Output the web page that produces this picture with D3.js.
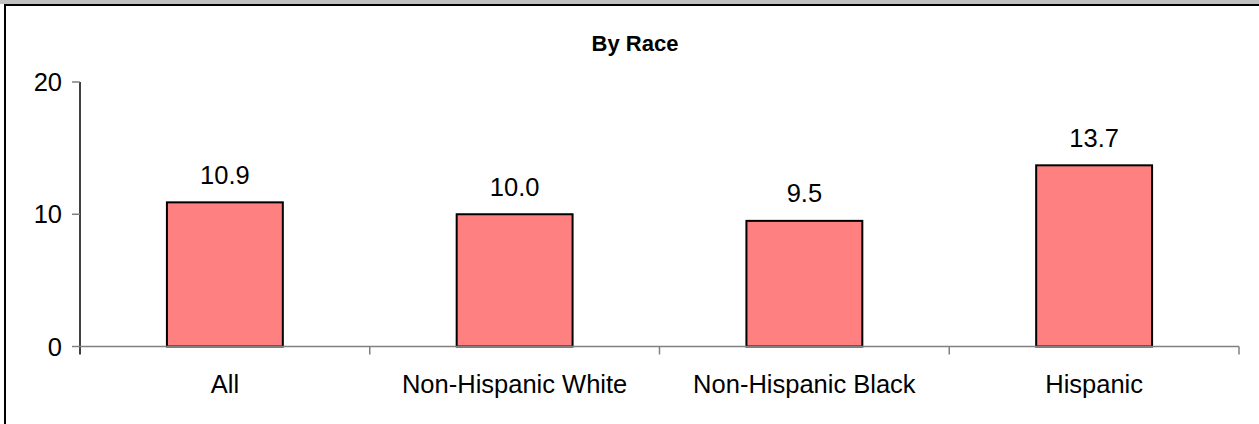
<!DOCTYPE html>
<html lang="en">
<head>
<meta charset="UTF-8">
<script src="https://d3js.org/d3.v7.min.js"></script>
<style>
    body { margin: 0; background: #fff; font-family: Arial, "Liberation Sans", sans-serif; }
    svg { display: block; }
</style>
</head>
<body>
<div id="chart"></div>
<script>
// data
var categories = ["All", "Non-Hispanic White", "Non-Hispanic Black", "Hispanic"];
var values = [10.9, 10.0, 9.5, 13.7];
var yTicks = [0, 10, 20];
var title = "By Race";

var W = 1259, H = 424;
var svg = d3.select("#chart").append("svg")
    .attr("width", W)
    .attr("height", H);

// frame (top gray band + dark edges)
svg.append("rect").attr("x", 0).attr("y", 0).attr("width", W).attr("height", 4).attr("fill", "#c0c0c0");
svg.append("line").attr("x1", 4).attr("x2", W).attr("y1", 5).attr("y2", 5)
    .attr("stroke", "#000").attr("stroke-width", 2);
svg.append("line").attr("x1", 5).attr("x2", 5).attr("y1", 4).attr("y2", H)
    .attr("stroke", "#000").attr("stroke-width", 2);

var plotLeft = 80, plotRight = 1239, plotTop = 82, plotBottom = 346.5;

var x = d3.scaleBand().domain(categories).range([plotLeft, plotRight]).padding(0);
var y = d3.scaleLinear().domain([0, 20]).range([plotBottom, plotTop]);

// title
svg.append("text")
    .attr("x", 635)
    .attr("y", 51)
    .attr("text-anchor", "middle")
    .style("font-size", "22px")
    .style("font-weight", "bold")
    .text(title);

// y axis
svg.append("line")
    .attr("x1", plotLeft).attr("x2", plotLeft)
    .attr("y1", y(20)).attr("y2", plotBottom + 8)
    .attr("stroke", "#000").attr("stroke-width", 1.5);

svg.selectAll(".ytick")
    .data(yTicks)
    .enter().append("line")
    .attr("x1", plotLeft - 8).attr("x2", plotLeft)
    .attr("y1", function(d) { return y(d); })
    .attr("y2", function(d) { return y(d); })
    .attr("stroke", "#808080").attr("stroke-width", 1.5);

svg.selectAll(".ylabel")
    .data(yTicks)
    .enter().append("text")
    .attr("x", plotLeft - 18)
    .attr("y", function(d) { return y(d) + 9; })
    .attr("text-anchor", "end")
    .style("font-size", "25.5px")
    .text(function(d) { return d; });

// bars
var barW = x.bandwidth() * 0.4;
svg.selectAll(".bar")
    .data(values)
    .enter().append("rect")
    .attr("x", function(d, i) { return x(categories[i]) + (x.bandwidth() - barW) / 2; })
    .attr("y", function(d) { return y(d); })
    .attr("width", barW)
    .attr("height", function(d) { return y(0) - y(d); })
    .attr("fill", "#ff8080")
    .attr("stroke", "#000")
    .attr("stroke-width", 2);

// x axis
svg.append("line")
    .attr("x1", plotLeft).attr("x2", plotRight)
    .attr("y1", plotBottom).attr("y2", plotBottom)
    .attr("stroke", "#808080").attr("stroke-width", 1.5);

var bounds = categories.map(function(c) { return x(c) + x.bandwidth(); });
svg.selectAll(".xtick")
    .data(bounds)
    .enter().append("line")
    .attr("x1", function(d) { return d; }).attr("x2", function(d) { return d; })
    .attr("y1", plotBottom).attr("y2", plotBottom + 8)
    .attr("stroke", "#808080").attr("stroke-width", 1.5);

svg.selectAll(".xlabel")
    .data(categories)
    .enter().append("text")
    .attr("x", function(d) { return x(d) + x.bandwidth() / 2; })
    .attr("y", 393)
    .attr("text-anchor", "middle")
    .style("font-size", "25.5px")
    .text(function(d) { return d; });

// value labels
svg.selectAll(".vlabel")
    .data(values)
    .enter().append("text")
    .attr("x", function(d, i) { return x(categories[i]) + x.bandwidth() / 2; })
    .attr("y", function(d) { return y(d) - 18.5; })
    .attr("text-anchor", "middle")
    .style("font-size", "25.5px")
    .text(function(d) { return d.toFixed(1); });
</script>
</body>
</html>
